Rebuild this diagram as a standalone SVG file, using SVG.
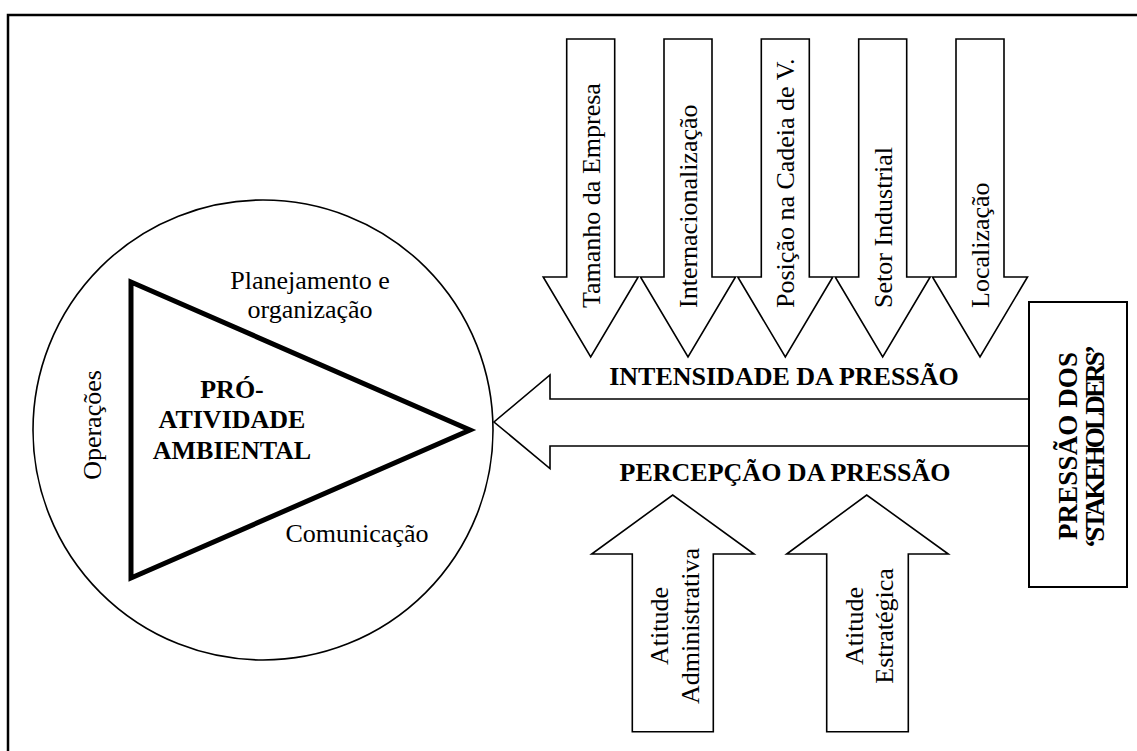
<svg xmlns="http://www.w3.org/2000/svg" width="1137" height="751" viewBox="0 0 1137 751">
<style>
.t{font-family:"Liberation Serif","Times New Roman",serif;font-size:26px;fill:#000}
.b{font-weight:bold}
.m{text-anchor:middle}
.ar{fill:#fff;stroke:#000;stroke-width:1.6;stroke-linejoin:miter}
</style>
<rect width="1137" height="751" fill="#fff"/>
<path d="M8,751 V15 H1137" fill="none" stroke="#000" stroke-width="2.5"/>
<g id="circle-node">
<circle cx="263" cy="430" r="230" fill="#fff" stroke="#000" stroke-width="1.6"/>
<polygon points="131,282 131,578 470,430" fill="none" stroke="#000" stroke-width="5" stroke-linejoin="miter"/>
<text class="t m" x="310" y="289">Planejamento e</text>
<text class="t m" x="310" y="318">organização</text>
<text class="t m" x="357" y="542">Comunicação</text>
<text class="t m" transform="translate(101,425) rotate(-90)">Operações</text>
<text class="t b m" x="232" y="398">PRÓ-</text>
<text class="t b m" x="232" y="428">ATIVIDADE</text>
<text class="t b m" x="232" y="459">AMBIENTAL</text>
</g>
<g id="connectors">
<g id="down-arrows">
<polygon class="ar" points="566.7,39 614.7,39 614.7,277 638.2,277 590.7,357 543.2,277 566.7,277"/>
<polygon class="ar" points="664,39 712,39 712,277 735.5,277 688,357 640.5,277 664,277"/>
<polygon class="ar" points="761.3,39 809.3,39 809.3,277 832.8,277 785.3,357 737.8,277 761.3,277"/>
<polygon class="ar" points="858.7,39 906.7,39 906.7,277 930.2,277 882.7,357 835.2,277 858.7,277"/>
<polygon class="ar" points="956,39 1004,39 1004,277 1027.5,277 980,357 932.5,277 956,277"/>
</g>
<polygon id="main-arrow" class="ar" points="1029,399 550,399 550,375 494,422 550,468.5 550,446 1029,446"/>
<g id="up-arrows">
<polygon class="ar" points="632.3,731.7 632.3,554 591.7,554 672.7,495 754,554 713.3,554 713.3,731.7"/>
<polygon class="ar" points="826.7,731.7 826.7,554 786.7,554 866.7,495 948.3,554 908.3,554 908.3,731.7"/>
</g>
</g>
<g id="factors">
<text class="t" transform="translate(600,308) rotate(-90)">Tamanho da Empresa</text>
<text class="t" transform="translate(697,308) rotate(-90)">Internacionalização</text>
<text class="t" transform="translate(794.3,308) rotate(-90)">Posição na Cadeia de V.</text>
<text class="t" transform="translate(891.7,308) rotate(-90)">Setor Industrial</text>
<text class="t" transform="translate(989,308) rotate(-90)">Localização</text>
</g>
<g id="pressure-labels">
<text class="t b m" x="784" y="385">INTENSIDADE DA PRESSÃO</text>
<text class="t b m" x="785" y="481">PERCEPÇÃO DA PRESSÃO</text>
</g>
<g id="attitudes">
<text class="t m" transform="translate(667.5,626) rotate(-90)">Atitude</text>
<text class="t m" transform="translate(698.5,626) rotate(-90)">Administrativa</text>
<text class="t m" transform="translate(862.5,626) rotate(-90)">Atitude</text>
<text class="t m" transform="translate(892.5,626) rotate(-90)">Estratégica</text>
</g>
<g id="stakeholders-node">
<rect x="1029" y="302" width="98" height="285" fill="#fff" stroke="#000" stroke-width="2"/>
<text class="t b m" style="font-size:27px" transform="translate(1077,446) rotate(-90)" textLength="188" lengthAdjust="spacing">PRESSÃO DOS</text>
<text class="t b m" style="font-size:27px" transform="translate(1104,446.5) rotate(-90)" textLength="203" lengthAdjust="spacing">‘STAKEHOLDERS’</text>
</g>
</svg>
